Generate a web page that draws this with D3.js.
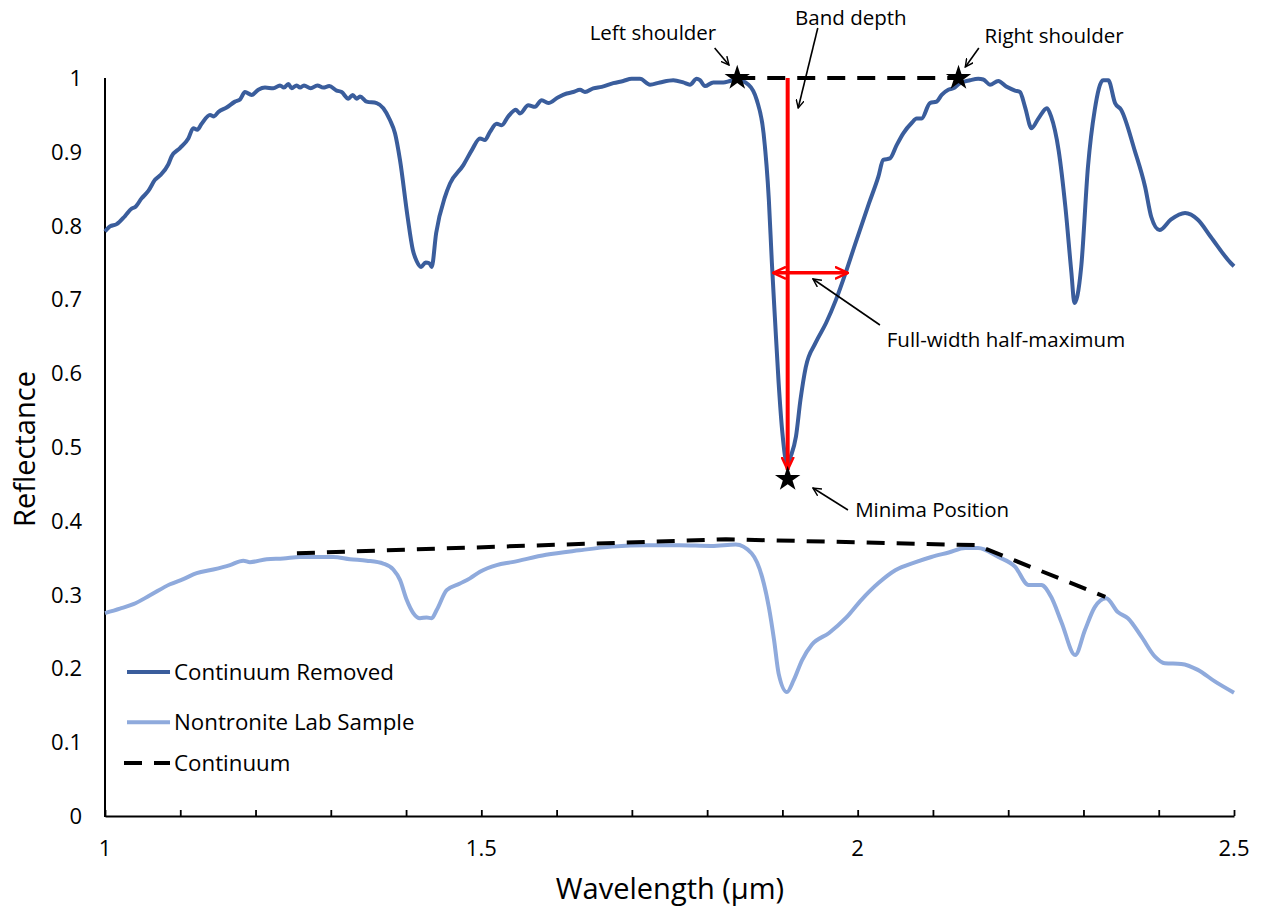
<!DOCTYPE html>
<html><head><meta charset="utf-8">
<script src="https://cdn.jsdelivr.net/npm/d3@7"></script>
<style>
body{margin:0;background:#fff}
svg{display:block}
text{font-family:"Open Sans",sans-serif;fill:#000}
</style>
</head><body>
<svg id="chart" width="1261" height="909"></svg>
<script>
// ---------- data ----------
const crWave=[1.000,1.0066,1.0155,1.0266,1.0354,1.0399,1.0487,1.0576,1.0664,1.0731,1.0841,1.0886,1.0996,1.1107,1.1173,1.1227,1.1284,1.1395,1.1448,1.1506,1.1616,1.1727,1.1794,1.1860,1.1949,1.2037,1.2126,1.2236,1.2325,1.2378,1.2436,1.2480,1.2547,1.2591,1.2644,1.2733,1.2821,1.2900,1.2980,1.3078,1.3144,1.3233,1.3291,1.3344,1.3388,1.3476,1.3609,1.3698,1.3786,1.3853,1.3919,1.402,1.409,1.414,1.420,1.426,1.431,1.434,1.440,1.4517,1.4584,1.4761,1.4872,1.4982,1.5048,1.5115,1.5204,1.5270,1.5358,1.5460,1.5513,1.5624,1.5713,1.5802,1.5890,1.6023,1.6134,1.6222,1.6311,1.6377,1.6487,1.6599,1.6753,1.6886,1.6997,1.7108,1.7241,1.7373,1.7550,1.7683,1.7772,1.7861,1.7905,1.7971,1.8082,1.8215,1.8303,1.8392,1.855,1.866,1.875,1.882,1.886,1.890,1.895,1.900,1.906,1.912,1.918,1.924,1.931,1.944,1.958,1.971,1.984,1.997,2.015,2.0274,2.0340,2.0429,2.0518,2.0606,2.0717,2.0784,2.0850,2.0960,2.1049,2.1116,2.1204,2.1270,2.1359,2.1492,2.1602,2.1669,2.1758,2.1868,2.1980,2.2090,2.2156,2.2223,2.231,2.240,2.2515,2.257,2.267,2.276,2.284,2.288,2.292,2.297,2.306,2.315,2.326,2.333,2.342,2.350,2.368,2.382,2.390,2.401,2.416,2.435,2.452,2.469,2.496,2.500];
const crRefl=[0.792,0.799,0.802,0.813,0.823,0.825,0.837,0.847,0.862,0.868,0.883,0.894,0.905,0.918,0.932,0.930,0.938,0.950,0.948,0.954,0.960,0.968,0.971,0.981,0.977,0.984,0.987,0.986,0.990,0.987,0.992,0.986,0.990,0.987,0.990,0.986,0.990,0.987,0.989,0.983,0.981,0.972,0.977,0.972,0.975,0.968,0.966,0.959,0.943,0.925,0.889,0.812,0.767,0.752,0.744,0.750,0.749,0.744,0.790,0.839,0.857,0.882,0.902,0.918,0.916,0.927,0.938,0.936,0.948,0.957,0.952,0.963,0.961,0.970,0.966,0.974,0.979,0.981,0.984,0.981,0.986,0.988,0.993,0.996,0.999,0.999,0.991,0.994,0.997,0.994,0.991,0.999,0.997,0.989,0.994,0.994,0.996,0.998,0.991,0.970,0.925,0.835,0.750,0.676,0.587,0.519,0.478,0.490,0.514,0.564,0.608,0.641,0.668,0.699,0.736,0.776,0.830,0.866,0.889,0.891,0.909,0.925,0.939,0.945,0.945,0.966,0.968,0.977,0.984,0.986,0.993,0.997,0.999,0.998,0.991,0.996,0.988,0.983,0.981,0.961,0.932,0.945,0.959,0.948,0.902,0.825,0.736,0.695,0.705,0.744,0.880,0.957,0.997,0.997,0.966,0.957,0.902,0.852,0.812,0.794,0.808,0.817,0.808,0.785,0.749,0.745];

const labWave=[1.000,1.0199,1.0376,1.0598,1.0864,1.1040,1.1218,1.1439,1.1661,1.1837,1.1926,1.2148,1.2369,1.2591,1.2813,1.3033,1.3255,1.3476,1.3697,1.3830,1.3919,1.4008,1.4096,1.4185,1.4274,1.4340,1.4407,1.4540,1.4716,1.4849,1.4982,1.5204,1.541,1.586,1.630,1.674,1.719,1.763,1.806,1.838,1.859,1.873,1.882,1.889,1.895,1.906,1.915,1.926,1.939,1.962,1.984,2.005,2.028,2.050,2.077,2.098,2.121,2.143,2.160,2.187,2.209,2.227,2.244,2.257,2.271,2.289,2.302,2.315,2.330,2.346,2.359,2.377,2.395,2.408,2.430,2.452,2.475,2.500];
const labRefl=[0.275,0.281,0.287,0.299,0.314,0.321,0.329,0.334,0.340,0.346,0.344,0.348,0.349,0.351,0.351,0.351,0.348,0.346,0.342,0.334,0.320,0.293,0.275,0.268,0.269,0.268,0.279,0.306,0.315,0.322,0.331,0.340,0.344,0.354,0.360,0.365,0.367,0.367,0.366,0.368,0.356,0.324,0.283,0.238,0.193,0.168,0.184,0.211,0.232,0.248,0.268,0.293,0.316,0.333,0.344,0.351,0.357,0.363,0.363,0.351,0.338,0.313,0.313,0.297,0.262,0.218,0.252,0.283,0.295,0.276,0.268,0.243,0.216,0.207,0.206,0.198,0.182,0.167];

const contWave=[1.255,1.825,2.158,2.329];
const contRefl=[0.356,0.375,0.367,0.297];
const topContWave=[1.840,2.134];
const topContRefl=[1.0,1.0];

const starWave=[1.840,2.134,1.907];
const starRefl=[1.0,1.0,0.4566];

const bandDepthWave=1.907, bandDepthTop=1.0, bandDepthBottom=0.469;
const fwhmLeft=1.8875, fwhmRight=1.987, fwhmRefl=0.736;

const xTickLabels=[1,1.5,2,2.5];
const xMinorTicks=d3.range(0,16).map(i=>1+i*0.1);
const yTickLabels=d3.range(0,11).map(i=>i/10);

const legendNames=["Continuum Removed","Nontronite Lab Sample","Continuum"];

const annotations=[
  {text:"Left shoulder", tx:1.728, ty:1.0515, ax1:1.810, ay1:1.0407, ax2:1.829, ay2:1.0176},
  {text:"Band depth", tx:1.991, ty:1.0718, ax1:1.947, ay1:1.0678, ax2:1.921, ay2:0.9593},
  {text:"Right shoulder", tx:2.261, ty:1.0474, ax1:2.161, ay1:1.0407, ax2:2.143, ay2:1.0149},
  {text:"Full-width half-maximum", tx:2.197, ty:0.6355, ax1:2.0296, ay1:0.6653, ax2:1.9406, ay2:0.7276},
  {text:"Minima Position", tx:2.099, ty:0.4051, ax1:1.9871, ay1:0.4146, ax2:1.9406, ay2:0.4444}
];

// ---------- layout ----------
const darkBlue="#3A5D9C", lightBlue="#8FAADC";
const svg=d3.select("#chart");
const x=d3.scaleLinear().domain([1,2.5]).range([105,1234]);
const y=d3.scaleLinear().domain([0,1]).range([816,78]);

const defs=svg.append("defs");
defs.append("marker").attr("id","blackHead").attr("viewBox","0 0 10 10")
  .attr("refX",9).attr("refY",5).attr("markerWidth",9).attr("markerHeight",9)
  .attr("markerUnits","userSpaceOnUse").attr("orient","auto")
  .append("path").attr("d","M0,0.5 L9,5 L0,9.5").attr("fill","none").attr("stroke","#000").attr("stroke-width",1.6);
defs.append("marker").attr("id","redHead").attr("viewBox","0 0 14 14")
  .attr("refX",13).attr("refY",7).attr("markerWidth",14).attr("markerHeight",14)
  .attr("markerUnits","userSpaceOnUse").attr("orient","auto-start-reverse")
  .append("path").attr("d","M0,1 L13,7 L0,13").attr("fill","none").attr("stroke","#FF0000").attr("stroke-width",2.5);

// axes
const xAxis=svg.append("g").attr("transform","translate(0,816)")
  .call(d3.axisBottom(x).tickValues(xMinorTicks).tickSizeInner(-6).tickSizeOuter(0).tickFormat(""));
xAxis.select(".domain").attr("stroke","#000").attr("stroke-width",2);
xAxis.selectAll(".tick line").attr("stroke","#000").attr("stroke-width",1.8);

svg.append("line").attr("x1",x(1)).attr("x2",x(1)).attr("y1",y(1)).attr("y2",y(0)+1)
  .attr("stroke","#000").attr("stroke-width",2);

svg.append("g").selectAll("text").data(xTickLabels).join("text")
  .attr("x",d=>x(d)).attr("y",856).attr("text-anchor","middle")
  .attr("font-size",22).text(d=>d3.format("")(d));
svg.append("g").selectAll("text").data(yTickLabels).join("text")
  .attr("x",82).attr("y",d=>y(d)+8).attr("text-anchor","end")
  .attr("font-size",22).text(d=>d3.format("")(+d.toFixed(1)));

svg.append("text").attr("x",670).attr("y",899).attr("text-anchor","middle")
  .attr("font-size",29).text("Wavelength (µm)");
svg.append("text").attr("transform","translate(35,449) rotate(-90)").attr("text-anchor","middle")
  .attr("font-size",29).text("Reflectance");

// lines
const line=d3.line().x(d=>x(d[0])).y(d=>y(d[1])).curve(d3.curveMonotoneX);
const lineStraight=d3.line().x(d=>x(d[0])).y(d=>y(d[1]));

svg.append("path").datum(labWave.map((w,i)=>[w,labRefl[i]]))
  .attr("d",line).attr("fill","none").attr("stroke",lightBlue).attr("stroke-width",4).attr("stroke-linejoin","round");
svg.append("path").datum(crWave.map((w,i)=>[w,crRefl[i]]))
  .attr("d",line).attr("fill","none").attr("stroke",darkBlue).attr("stroke-width",4).attr("stroke-linejoin","round");

svg.append("path").datum(contWave.map((w,i)=>[w,contRefl[i]]))
  .attr("d",lineStraight).attr("fill","none").attr("stroke","#000").attr("stroke-width",4).attr("stroke-dasharray","18,12");
svg.append("path").datum(topContWave.map((w,i)=>[w,topContRefl[i]]))
  .attr("d",lineStraight).attr("fill","none").attr("stroke","#000").attr("stroke-width",4).attr("stroke-dasharray","18,12");

// red measurements
svg.append("line").attr("x1",x(bandDepthWave)).attr("x2",x(bandDepthWave))
  .attr("y1",y(bandDepthTop)).attr("y2",y(bandDepthBottom))
  .attr("stroke","#FF0000").attr("stroke-width",4).attr("marker-end","url(#redHead)");
svg.append("line").attr("x1",x(fwhmLeft)).attr("x2",x(fwhmRight))
  .attr("y1",y(fwhmRefl)).attr("y2",y(fwhmRefl))
  .attr("stroke","#FF0000").attr("stroke-width",3.5)
  .attr("marker-start","url(#redHead)").attr("marker-end","url(#redHead)");

// stars
const star=d3.symbol().type(d3.symbolStar).size(200);
svg.append("g").selectAll("path").data(starWave.map((w,i)=>[w,starRefl[i]])).join("path")
  .attr("transform",d=>`translate(${x(d[0])},${y(d[1])})`).attr("d",star).attr("fill","#000");

// annotations
const ann=svg.append("g");
annotations.forEach(a=>{
  ann.append("text").attr("x",x(a.tx)).attr("y",y(a.ty)).attr("text-anchor","middle")
    .attr("font-size",20.5).text(a.text);
  ann.append("line").attr("x1",x(a.ax1)).attr("y1",y(a.ay1)).attr("x2",x(a.ax2)).attr("y2",y(a.ay2))
    .attr("stroke","#000").attr("stroke-width",1.6).attr("marker-end","url(#blackHead)");
});

// legend
const legY=[0.195,0.127,0.0718];
const leg=svg.append("g");
leg.append("line").attr("x1",127).attr("x2",170).attr("y1",y(legY[0])).attr("y2",y(legY[0]))
  .attr("stroke",darkBlue).attr("stroke-width",4);
leg.append("line").attr("x1",127).attr("x2",170).attr("y1",y(legY[1])).attr("y2",y(legY[1]))
  .attr("stroke",lightBlue).attr("stroke-width",4);
leg.append("line").attr("x1",124).attr("x2",170).attr("y1",y(legY[2])).attr("y2",y(legY[2]))
  .attr("stroke","#000").attr("stroke-width",4).attr("stroke-dasharray","18,12");
legendNames.forEach((n,i)=>{
  leg.append("text").attr("x",174).attr("y",y(legY[i])+8).attr("font-size",22.3).text(n);
});
</script>
</body></html>
